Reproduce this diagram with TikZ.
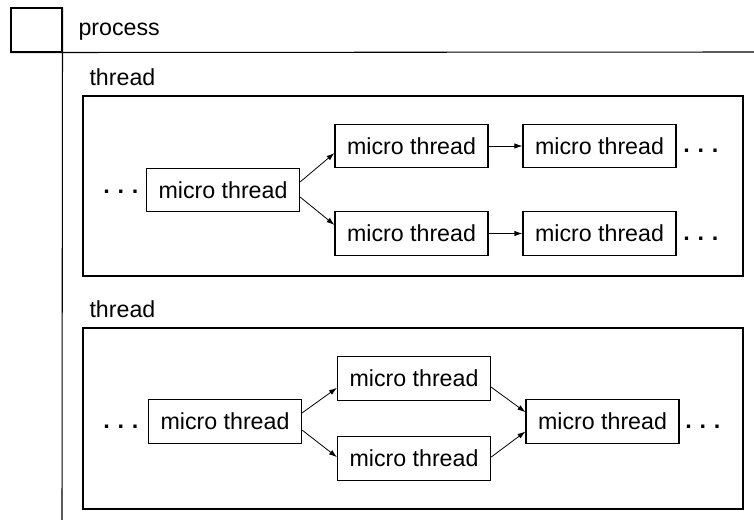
\documentclass[tikz,border=0pt]{standalone}
\usepackage{fontspec}
\setmainfont{Liberation Sans}
\usetikzlibrary{arrows.meta}
\newcommand{\diagfont}{\fontsize{17.4}{20}\selectfont}
\begin{document}
\begin{tikzpicture}[x=0.75pt,y=-0.75pt,line width=0.8pt,
  mt/.style={draw,minimum width=114.75pt,minimum height=32.5pt,inner sep=0pt,font=\diagfont},
  frame/.style={draw,inner sep=0pt},
  lbl/.style={anchor=base west,inner sep=0pt,font=\diagfont},
  more/.style={anchor=base,inner sep=0pt,font=\diagfont\bfseries},
  arr/.style={-{Latex[length=6pt,width=4pt]},line width=0.6pt}]
\useasboundingbox (0,0) rectangle (754,520);

% process header: small square, rule and left bar
\node[frame,minimum width=38.25pt,minimum height=33pt] (pbox) at (36.5,30) {};
\coordinate (rightend) at (754,52);
\coordinate (bottomend) at (62,520);
\draw (pbox.south west) -- (rightend);
\draw (pbox.north east) -- (bottomend);
\node[lbl] (ptext) at (78,36) {process};

% first thread: branching micro threads
\node[lbl] (tlab1) at (89,86) {thread};
\node[frame,minimum width=495pt,minimum height=135pt] (t1) at (413,186) {};
\node[mt] (a0) at (223,190) {micro thread};
\node[mt] (a1) at (411.5,146) {micro thread};
\node[mt] (a2) at (411.5,233.5) {micro thread};
\node[mt] (a3) at (599.5,146) {micro thread};
\node[mt] (a4) at (599.5,233.5) {micro thread};
\node[more] (d0) at (121.5,200) {· · ·};
\node[more] (d1) at (701.5,159) {· · ·};
\node[more] (d2) at (701.5,246.5) {· · ·};
\draw[arr] ([yshift=6pt]a0.east) -- ([yshift=-5.25pt]a1.west);
\draw[arr] ([yshift=-5.25pt]a0.east) -- ([yshift=6.4pt]a2.west);
\draw[arr] (a1.east) -- (a3.west);
\draw[arr] (a2.east) -- (a4.west);

% second thread: fork and join
\node[lbl] (tlab2) at (89,318) {thread};
\node[frame,minimum width=495pt,minimum height=135.75pt] (t2) at (413,418.5) {};
\node[mt] (b0) at (225,421.5) {micro thread};
\node[mt] (b1) at (414,378.5) {micro thread};
\node[mt] (b2) at (414,458.5) {micro thread};
\node[mt] (b3) at (602.5,421.5) {micro thread};
\node[more] (e0) at (121.5,434.5) {· · ·};
\node[more] (e1) at (703.5,434.5) {· · ·};
\draw[arr] ([yshift=6.4pt]b0.east) -- ([yshift=-7pt]b1.west);
\draw[arr] ([yshift=-6.4pt]b0.east) -- ([yshift=1pt]b2.west);
\draw[arr] ([yshift=-6.4pt]b1.east) -- ([yshift=7pt]b3.west);
\draw[arr] ([yshift=1pt]b2.east) -- ([yshift=-7.5pt]b3.west);
\end{tikzpicture}
\end{document}
